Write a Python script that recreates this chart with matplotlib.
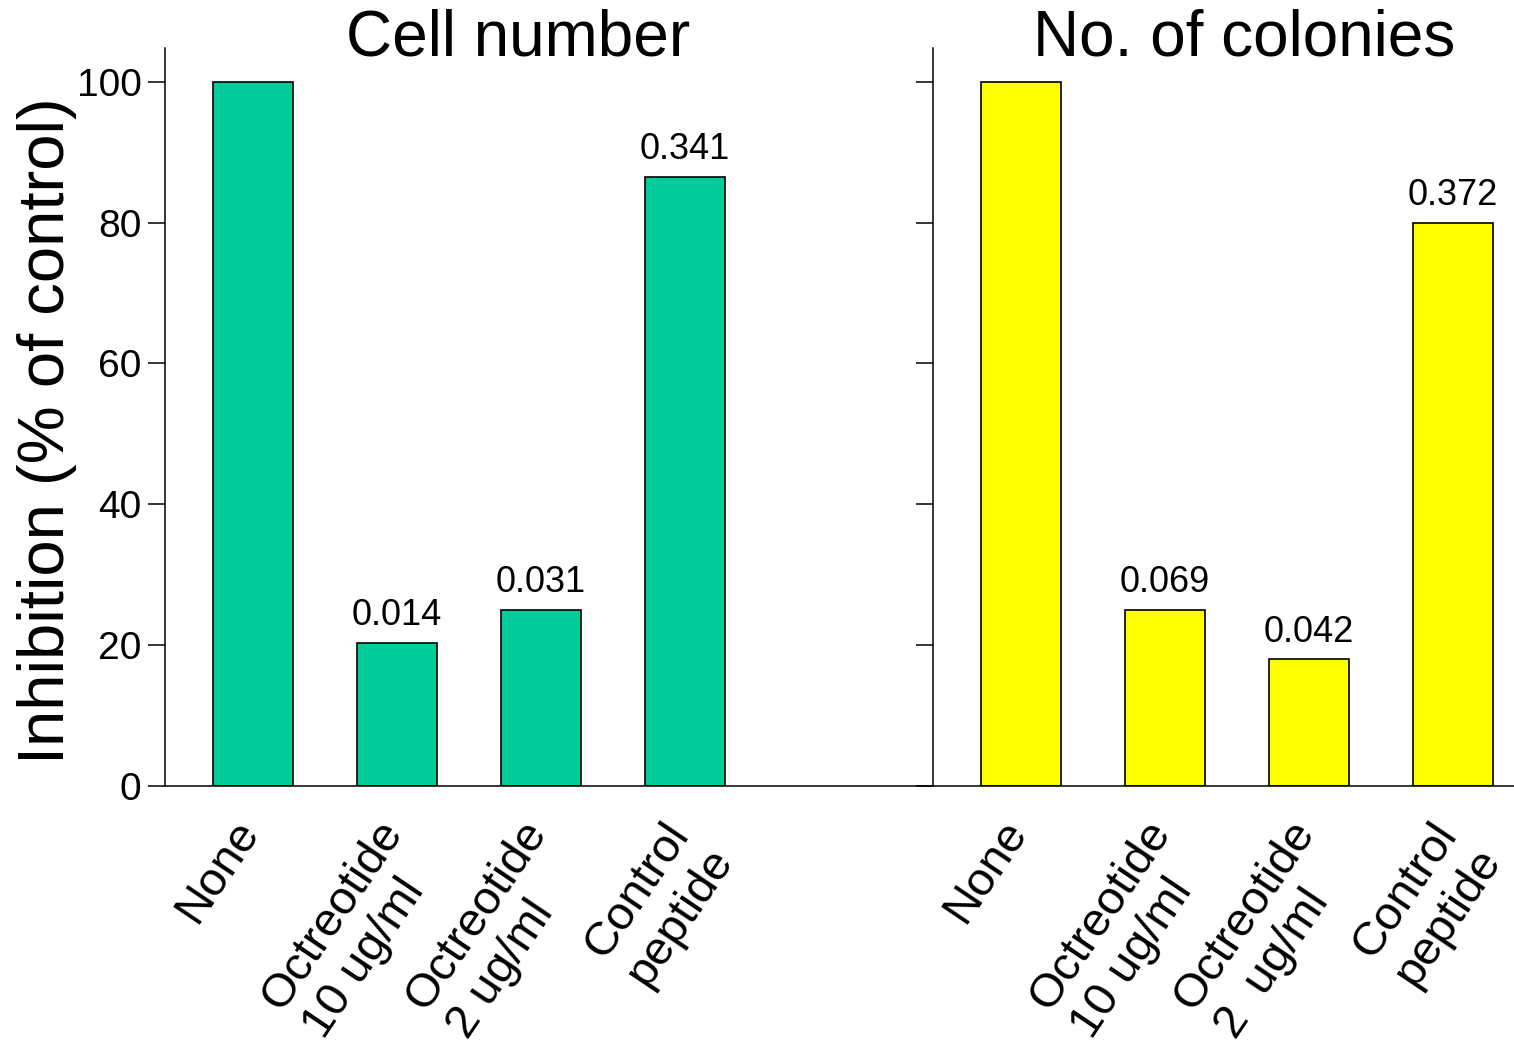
import numpy as np
import matplotlib.pyplot as plt
import matplotlib.transforms as mtransforms

plt.rcParams['font.family'] = ['Liberation Sans', 'DejaVu Sans']

# data
cell_labels = ["None", "Octreotide\n10 ug/ml", "Octreotide\n2 ug/ml", "Control\npeptide"]
colony_labels = ["None", "Octreotide\n10 ug/ml", "Octreotide\n2  ug/ml", "Control\npeptide"]
cell_values = [100, 20.3, 25, 86.5]
colony_values = [100, 25, 18, 80]
cell_pvals = [None, "0.014", "0.031", "0.341"]
colony_pvals = [None, "0.069", "0.042", "0.372"]
yticks = [0, 20, 40, 60, 80, 100]

W, H = 1514, 1045
fig = plt.figure(figsize=(W / 100, H / 100), dpi=100)

bottom = (H - 786) / H
height = (786 - 48) / H
ax1 = fig.add_axes([165 / W, bottom, (933 - 165) / W, height])
ax2 = fig.add_axes([933 / W, bottom, (W - 933) / W, height])


def panel(ax, values, labels, pvals, color, xmax, show_labels):
    x = np.arange(len(values))
    ax.bar(x, values, width=0.555, color=color, edgecolor='black', linewidth=1.2)
    for xi, v, p in zip(x, values, pvals):
        if p is None:
            continue
        ax.annotate(p, (xi, v), xytext=(0, 7), textcoords='offset points',
                    ha='center', va='bottom', fontsize=26)
    ax.set_xlim(-0.611, xmax)
    ax.set_ylim(0, 104.8)
    ax.set_xticks(x)
    ax.set_xticklabels(labels, rotation=56, ha='right', va='top',
                       rotation_mode='anchor', multialignment='left', fontsize=34)
    ax.tick_params(axis='x', length=0, pad=19)
    shift = mtransforms.ScaledTranslation(-0.22, 0, fig.dpi_scale_trans)
    for lbl in ax.get_xticklabels():
        lbl.set_transform(lbl.get_transform() + shift)
    ax.set_yticks(yticks)
    ax.tick_params(axis='y', direction='out', length=12, width=1.1, labelsize=28, pad=5)
    if not show_labels:
        ax.set_yticklabels([])
    for s in ['top', 'right']:
        ax.spines[s].set_visible(False)
    for s in ['left', 'bottom']:
        ax.spines[s].set_linewidth(1.1)


panel(ax1, cell_values, cell_labels, cell_pvals, '#00CC99', (933 - 253) / 144, True)
panel(ax2, colony_values, colony_labels, colony_pvals, '#FFFF00', (W - 1021) / 144, False)

ax1.set_ylabel("Inhibition (% of control)", fontsize=47)
ax1.yaxis.set_label_coords(-0.115, 0.482)

fig.text(518 / W, 1 - 39 / H, "Cell number", fontsize=46, ha='center', va='center')
fig.text(1244 / W, 1 - 39 / H, "No. of colonies", fontsize=46, ha='center', va='center')

fig.savefig("out.png", dpi=100)
